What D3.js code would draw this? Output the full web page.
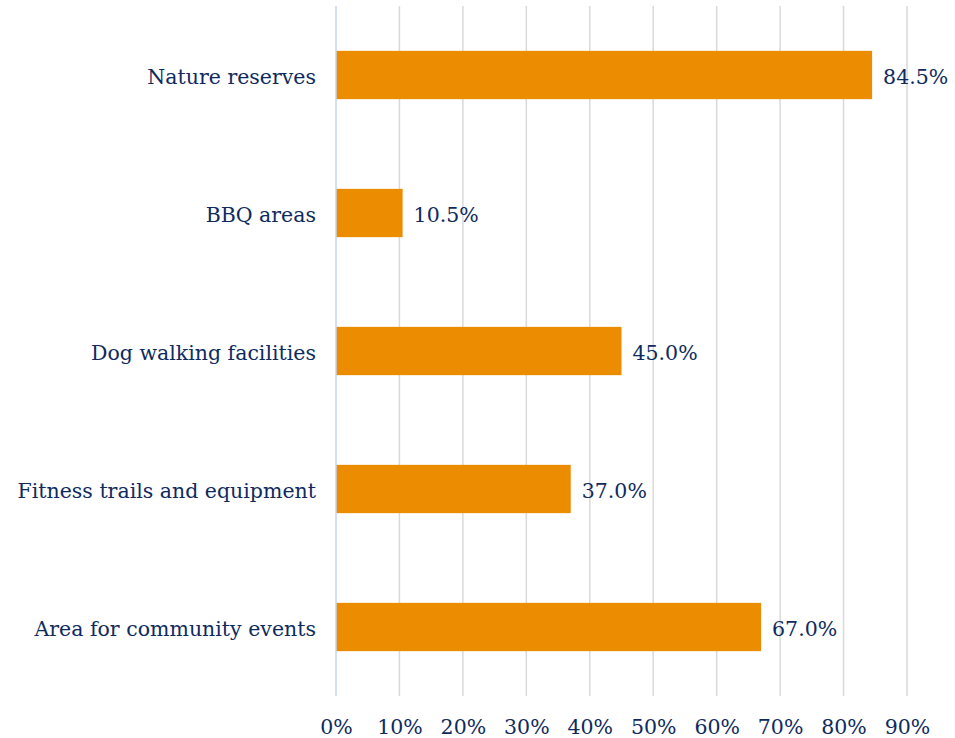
<!DOCTYPE html>
<html>
<head>
<meta charset="utf-8">
<script src="https://d3js.org/d3.v7.min.js"></script>
<style>
  body { margin: 0; background: #fff; }
  text { font-family: "DejaVu Serif", serif; fill: #0e2a5e; }
</style>
</head>
<body>
<script>
var categories = ["Nature reserves", "BBQ areas", "Dog walking facilities", "Fitness trails and equipment", "Area for community events"];
var values = [0.845, 0.105, 0.45, 0.37, 0.67];
var ticks = [0, 0.1, 0.2, 0.3, 0.4, 0.5, 0.6, 0.7, 0.8, 0.9];

var width = 955, height = 738;
var margin = {top: 6, right: 48, bottom: 42, left: 336};

var svg = d3.select("body").append("svg")
    .attr("width", width)
    .attr("height", height);

var x = d3.scaleLinear()
    .domain([0, 0.9])
    .range([margin.left, width - margin.right]);

var y = d3.scaleBand()
    .domain(categories)
    .range([margin.top, height - margin.bottom])
    .paddingInner(0.65)
    .paddingOuter(0.325);

// gridlines
svg.append("g")
  .selectAll("line")
  .data(ticks.slice(1))
  .enter().append("line")
    .attr("x1", function(d) { return x(d); })
    .attr("x2", function(d) { return x(d); })
    .attr("y1", margin.top)
    .attr("y2", height - margin.bottom)
    .attr("stroke", "#d9d9d9")
    .attr("stroke-width", 1.5);

// bars
svg.append("g")
  .selectAll("rect")
  .data(values)
  .enter().append("rect")
    .attr("x", x(0))
    .attr("y", function(d, i) { return y(categories[i]); })
    .attr("width", function(d) { return x(d) - x(0); })
    .attr("height", y.bandwidth())
    .attr("fill", "#ec8c00");

// zero axis line
svg.append("line")
    .attr("x1", x(0)).attr("x2", x(0))
    .attr("y1", margin.top).attr("y2", height - margin.bottom)
    .attr("stroke", "#c5d5f5")
    .attr("stroke-width", 1.5);

// value labels
svg.append("g")
  .selectAll("text")
  .data(values)
  .enter().append("text")
    .attr("x", function(d) { return x(d) + 11; })
    .attr("y", function(d, i) { return y(categories[i]) + y.bandwidth() / 2; })
    .attr("dy", "0.42em")
    .style("font-size", "20.5px")
    .text(function(d) { return d3.format(".1%")(d); });

// category labels
var yAxis = d3.axisLeft(y).tickSize(0).tickPadding(20);
var gy = svg.append("g")
    .attr("transform", "translate(" + margin.left + ",0)")
    .call(yAxis);
gy.select(".domain").remove();
gy.selectAll("text").style("font-size", "20.5px").attr("dy", "0.42em").attr("fill", null);

// x tick labels
var xAxis = d3.axisBottom(x).tickValues(ticks).tickFormat(d3.format(".0%")).tickSize(0).tickPadding(23);
var gx = svg.append("g")
    .attr("transform", "translate(0," + (height - margin.bottom) + ")")
    .call(xAxis);
gx.select(".domain").remove();
gx.selectAll("text").style("font-size", "20.5px").attr("fill", null);
</script>
</body>
</html>
